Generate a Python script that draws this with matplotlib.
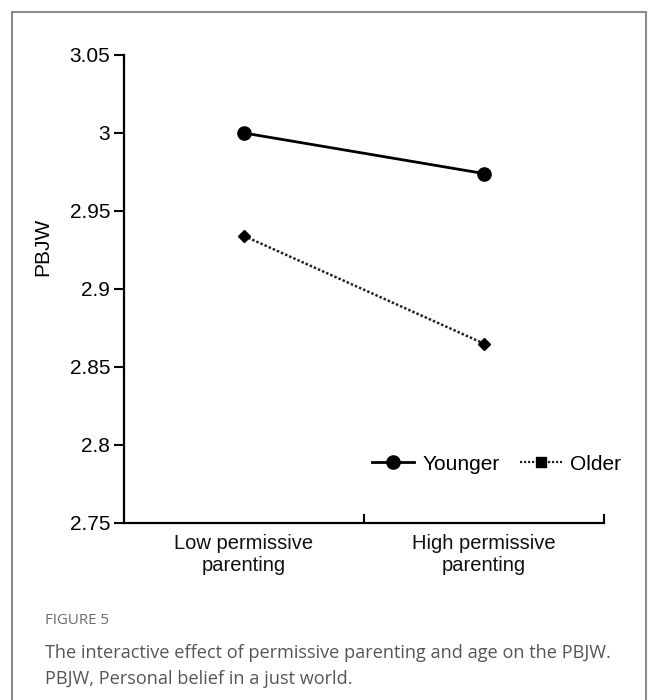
import matplotlib
matplotlib.use("Agg")
import matplotlib.pyplot as plt
from matplotlib.lines import Line2D
from matplotlib.patches import Rectangle

# data
categories = ["Low permissive\nparenting", "High permissive\nparenting"]
younger = [3.000, 2.974]
older = [2.934, 2.865]
yticks = [2.75, 2.8, 2.85, 2.9, 2.95, 3.0, 3.05]
ytick_labels = ["2.75", "2.8", "2.85", "2.9", "2.95", "3", "3.05"]

plt.rcParams['font.family'] = ['Liberation Sans', 'DejaVu Sans']

fig = plt.figure(figsize=(6.58, 7.0), dpi=100)

# grey frame round the whole panel
fig.patches.append(Rectangle((12/658, -0.05), (646-12)/658, 1.05 - 12/700,
                             transform=fig.transFigure, fill=False,
                             edgecolor='#8c8c8c', linewidth=1.5))

ax = fig.add_axes([124/658, 1 - 523/700, 480/658, 468/700])

xpos = [0.5, 1.5]
ax.plot(xpos, younger, color='black', lw=2, marker='o', ms=9.5)
ax.plot(xpos, older, color='#222222', lw=1.8, ls=(0, (1, 0.8)),
        marker='D', ms=6.5, mfc='black', mec='black')

ax.set_xlim(0, 2)
ax.set_ylim(2.75, 3.05)
ax.set_yticks(yticks)
ax.set_yticklabels(ytick_labels, fontsize=15)
ax.set_xticks(xpos)
ax.set_xticklabels(categories, fontsize=14.5, color='#111111')
ax.set_xticks([1, 2], minor=True)
ax.tick_params(axis='x', which='major', length=0, pad=8)
ax.tick_params(axis='x', which='minor', direction='in', length=6.5, width=1.5)
ax.tick_params(axis='y', direction='out', length=7, width=1.5, pad=3)

for s in ['top', 'right']:
    ax.spines[s].set_visible(False)
for s in ['left', 'bottom']:
    ax.spines[s].set_linewidth(1.6)

ax.set_ylabel("PBJW", fontsize=15)
ax.yaxis.set_label_coords(-0.15, 0.59)

handles = [Line2D([], [], color='black', lw=2, marker='o', ms=9.5),
           Line2D([], [], color='#222222', lw=1.6, ls=(0, (1, 0.8)),
                  marker='s', ms=7.5, mfc='black', mec='black')]
ax.legend(handles, ["Younger", "Older"], loc='center left',
          bbox_to_anchor=(0.517, 0.126), ncol=2, frameon=False, fontsize=15,
          handlelength=2.0, handletextpad=0.4, columnspacing=1.0,
          borderpad=0, borderaxespad=0)

# caption
cap_font = ['Open Sans', 'DejaVu Sans']
fig.text(45/658, 1 - 620/700, "FIGURE 5", fontsize=10.8, color='#6b6b6b',
         family=cap_font, va='center')
fig.text(45/658, 1 - 653/700,
         "The interactive effect of permissive parenting and age on the PBJW.",
         fontsize=13.1, color='#555555', family=cap_font, va='center')
fig.text(45/658, 1 - 679/700, "PBJW, Personal belief in a just world.",
         fontsize=13.1, color='#555555', family=cap_font, va='center')

fig.savefig("out.png", dpi=100)
